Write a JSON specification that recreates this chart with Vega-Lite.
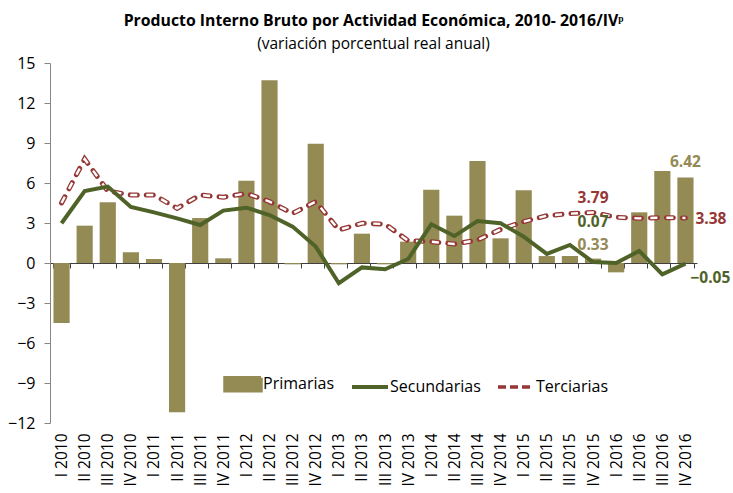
{
  "$schema": "https://vega.github.io/schema/vega-lite/v6.json",
  "width": 647,
  "height": 360,
  "autosize": {"type": "none"},
  "padding": {"left": 50, "top": 63, "right": 36, "bottom": 70},
  "background": "white",
  "config": {
    "view": {"stroke": null},
    "font": "Open Sans",
    "axis": {"labelFont": "Open Sans", "labelColor": "#000000", "grid": false}
  },
  "title": {
    "text": "Producto Interno Bruto por Actividad Económica,  2010- 2016/IVᵖ",
    "subtitle": "(variación porcentual real anual)",
    "font": "Open Sans",
    "fontSize": 15.8,
    "fontWeight": "bold",
    "color": "#000000",
    "subtitleFont": "Open Sans",
    "subtitleFontSize": 15.5,
    "subtitleColor": "#000000",
    "subtitlePadding": 7,
    "anchor": "middle",
    "offset": 2
  },
  "data": {
    "values": [
      {"q": "I 2010", "serie": "Primarias", "v": -4.5},
      {"q": "II 2010", "serie": "Primarias", "v": 2.8},
      {"q": "III 2010", "serie": "Primarias", "v": 4.55},
      {"q": "IV 2010", "serie": "Primarias", "v": 0.8},
      {"q": "I 2011", "serie": "Primarias", "v": 0.3},
      {"q": "II 2011", "serie": "Primarias", "v": -11.2},
      {"q": "III 2011", "serie": "Primarias", "v": 3.37},
      {"q": "IV 2011", "serie": "Primarias", "v": 0.35},
      {"q": "I 2012", "serie": "Primarias", "v": 6.17},
      {"q": "II 2012", "serie": "Primarias", "v": 13.7},
      {"q": "III 2012", "serie": "Primarias", "v": -0.1},
      {"q": "IV 2012", "serie": "Primarias", "v": 8.95},
      {"q": "I 2013", "serie": "Primarias", "v": -0.1},
      {"q": "II 2013", "serie": "Primarias", "v": 2.2},
      {"q": "III 2013", "serie": "Primarias", "v": -0.1},
      {"q": "IV 2013", "serie": "Primarias", "v": 1.6},
      {"q": "I 2014", "serie": "Primarias", "v": 5.5},
      {"q": "II 2014", "serie": "Primarias", "v": 3.55},
      {"q": "III 2014", "serie": "Primarias", "v": 7.65},
      {"q": "IV 2014", "serie": "Primarias", "v": 1.85},
      {"q": "I 2015", "serie": "Primarias", "v": 5.45},
      {"q": "II 2015", "serie": "Primarias", "v": 0.52},
      {"q": "III 2015", "serie": "Primarias", "v": 0.52},
      {"q": "IV 2015", "serie": "Primarias", "v": 0.33},
      {"q": "I 2016", "serie": "Primarias", "v": -0.7},
      {"q": "II 2016", "serie": "Primarias", "v": 3.8},
      {"q": "III 2016", "serie": "Primarias", "v": 6.9},
      {"q": "IV 2016", "serie": "Primarias", "v": 6.42},
      {"q": "I 2010", "serie": "Secundarias", "v": 2.98},
      {"q": "II 2010", "serie": "Secundarias", "v": 5.4},
      {"q": "III 2010", "serie": "Secundarias", "v": 5.73},
      {"q": "IV 2010", "serie": "Secundarias", "v": 4.2},
      {"q": "I 2011", "serie": "Secundarias", "v": 3.8},
      {"q": "II 2011", "serie": "Secundarias", "v": 3.35},
      {"q": "III 2011", "serie": "Secundarias", "v": 2.85},
      {"q": "IV 2011", "serie": "Secundarias", "v": 3.93},
      {"q": "I 2012", "serie": "Secundarias", "v": 4.15},
      {"q": "II 2012", "serie": "Secundarias", "v": 3.6},
      {"q": "III 2012", "serie": "Secundarias", "v": 2.73},
      {"q": "IV 2012", "serie": "Secundarias", "v": 1.23},
      {"q": "I 2013", "serie": "Secundarias", "v": -1.52},
      {"q": "II 2013", "serie": "Secundarias", "v": -0.33},
      {"q": "III 2013", "serie": "Secundarias", "v": -0.47},
      {"q": "IV 2013", "serie": "Secundarias", "v": 0.3},
      {"q": "I 2014", "serie": "Secundarias", "v": 2.9},
      {"q": "II 2014", "serie": "Secundarias", "v": 2.02},
      {"q": "III 2014", "serie": "Secundarias", "v": 3.15},
      {"q": "IV 2014", "serie": "Secundarias", "v": 2.98},
      {"q": "I 2015", "serie": "Secundarias", "v": 1.98},
      {"q": "II 2015", "serie": "Secundarias", "v": 0.68},
      {"q": "III 2015", "serie": "Secundarias", "v": 1.35},
      {"q": "IV 2015", "serie": "Secundarias", "v": 0.07},
      {"q": "I 2016", "serie": "Secundarias", "v": 0.0},
      {"q": "II 2016", "serie": "Secundarias", "v": 0.9},
      {"q": "III 2016", "serie": "Secundarias", "v": -0.85},
      {"q": "IV 2016", "serie": "Secundarias", "v": -0.05},
      {"q": "I 2010", "serie": "Terciarias", "v": 4.5},
      {"q": "II 2010", "serie": "Terciarias", "v": 7.8},
      {"q": "III 2010", "serie": "Terciarias", "v": 5.4},
      {"q": "IV 2010", "serie": "Terciarias", "v": 5.1},
      {"q": "I 2011", "serie": "Terciarias", "v": 5.1},
      {"q": "II 2011", "serie": "Terciarias", "v": 4.1},
      {"q": "III 2011", "serie": "Terciarias", "v": 5.1},
      {"q": "IV 2011", "serie": "Terciarias", "v": 4.93},
      {"q": "I 2012", "serie": "Terciarias", "v": 5.22},
      {"q": "II 2012", "serie": "Terciarias", "v": 4.6},
      {"q": "III 2012", "serie": "Terciarias", "v": 3.72},
      {"q": "IV 2012", "serie": "Terciarias", "v": 4.6},
      {"q": "I 2013", "serie": "Terciarias", "v": 2.48},
      {"q": "II 2013", "serie": "Terciarias", "v": 2.98},
      {"q": "III 2013", "serie": "Terciarias", "v": 2.92},
      {"q": "IV 2013", "serie": "Terciarias", "v": 1.67},
      {"q": "I 2014", "serie": "Terciarias", "v": 1.6},
      {"q": "II 2014", "serie": "Terciarias", "v": 1.42},
      {"q": "III 2014", "serie": "Terciarias", "v": 1.72},
      {"q": "IV 2014", "serie": "Terciarias", "v": 2.52},
      {"q": "I 2015", "serie": "Terciarias", "v": 3.1},
      {"q": "II 2015", "serie": "Terciarias", "v": 3.55},
      {"q": "III 2015", "serie": "Terciarias", "v": 3.7},
      {"q": "IV 2015", "serie": "Terciarias", "v": 3.79},
      {"q": "I 2016", "serie": "Terciarias", "v": 3.43},
      {"q": "II 2016", "serie": "Terciarias", "v": 3.35},
      {"q": "III 2016", "serie": "Terciarias", "v": 3.4},
      {"q": "IV 2016", "serie": "Terciarias", "v": 3.38}
    ]
  },
  "encoding": {
    "x": {
      "field": "q",
      "type": "nominal",
      "sort": null,
      "scale": {"paddingInner": 0.3, "paddingOuter": 0.15},
      "axis": {
        "title": null,
        "orient": "bottom",
        "offset": -160,
        "tickBand": "extent",
        "tickSize": 5,
        "tickColor": "#404040",
        "domainColor": "#404040",
        "labelAngle": 270,
        "labelPadding": 165,
        "labelFontSize": 15.5
      }
    },
    "y": {
      "field": "v",
      "type": "quantitative",
      "scale": {"domain": [-12, 15], "nice": false, "zero": false},
      "axis": {
        "title": null,
        "values": [-12, -9, -6, -3, 0, 3, 6, 9, 12, 15],
        "tickSize": 6,
        "tickColor": "#868686",
        "domainColor": "#868686",
        "labelFontSize": 16,
        "labelPadding": 9
      }
    }
  },
  "layer": [
    {
      "transform": [{"filter": "datum.serie === 'Primarias'"}],
      "mark": {"type": "bar"},
      "encoding": {
        "color": {
          "field": "serie",
          "type": "nominal",
          "scale": {"domain": ["Primarias", "Secundarias", "Terciarias"], "range": ["#948A54", "#4F6228", "#953735"]},
          "legend": {
            "title": null,
            "orient": "none",
            "direction": "horizontal",
            "legendX": 185,
            "legendY": 313,
            "symbolSize": 1296,
            "labelFont": "Open Sans",
            "labelFontSize": 16,
            "labelColor": "#000000",
            "labelOffset": 12,
            "columnPadding": 10,
            "encode": {
              "symbols": {
                "update": {
                  "shape": {"signal": "datum.value === 'Primarias' ? 'M-1,-0.36H1V0.36H-1Z' : 'stroke'"},
                  "fill": {"signal": "datum.value === 'Primarias' ? '#948A54' : 'transparent'"},
                  "stroke": {"signal": "datum.value === 'Primarias' ? 'transparent' : (datum.value === 'Secundarias' ? '#4F6228' : '#953735')"},
                  "strokeWidth": {"signal": "datum.value === 'Secundarias' ? 4 : 3.5"},
                  "strokeDash": {"signal": "datum.value === 'Terciarias' ? [8, 4] : [1, 0]"}
                }
              }
            }
          }
        }
      }
    },
    {
      "transform": [{"filter": "datum.serie === 'Terciarias'"}],
      "mark": {"type": "line", "strokeWidth": 5, "strokeDash": [7, 9], "strokeCap": "round"},
      "encoding": {"color": {"field": "serie", "type": "nominal"}}
    },
    {
      "transform": [{"filter": "datum.serie === 'Terciarias'"}],
      "mark": {"type": "line", "strokeWidth": 2.4, "strokeDash": [7, 9], "strokeCap": "butt", "color": "#ffffff"},
      "encoding": {}
    },
    {
      "transform": [{"filter": "datum.serie === 'Secundarias'"}],
      "mark": {"type": "line", "strokeWidth": 4, "strokeJoin": "miter"},
      "encoding": {"color": {"field": "serie", "type": "nominal"}}
    },
    {
      "transform": [{"filter": "datum.q === 'IV 2016' && datum.serie === 'Primarias'"}],
      "mark": {"type": "text", "fontSize": 15.5, "fontWeight": "bold", "color": "#948A54", "dy": -15},
      "encoding": {"text": {"field": "v", "format": ".2f"}}
    },
    {
      "transform": [{"filter": "datum.q === 'IV 2015' && datum.serie === 'Primarias'"}],
      "mark": {"type": "text", "fontSize": 15.5, "fontWeight": "bold", "color": "#948A54", "dy": -14},
      "encoding": {"text": {"field": "v", "format": ".2f"}}
    },
    {
      "transform": [{"filter": "datum.q === 'IV 2015' && datum.serie === 'Secundarias'"}],
      "mark": {"type": "text", "fontSize": 15.5, "fontWeight": "bold", "color": "#4F6228", "dy": -40},
      "encoding": {"text": {"field": "v", "format": ".2f"}}
    },
    {
      "transform": [{"filter": "datum.q === 'IV 2015' && datum.serie === 'Terciarias'"}],
      "mark": {"type": "text", "fontSize": 15.5, "fontWeight": "bold", "color": "#953735", "dy": -14},
      "encoding": {"text": {"field": "v", "format": ".2f"}}
    },
    {
      "transform": [{"filter": "datum.q === 'IV 2016' && datum.serie === 'Terciarias'"}],
      "mark": {"type": "text", "fontSize": 15.5, "fontWeight": "bold", "color": "#953735", "align": "left", "dx": 10, "dy": 1},
      "encoding": {"text": {"field": "v", "format": ".2f"}}
    },
    {
      "transform": [{"filter": "datum.q === 'IV 2016' && datum.serie === 'Secundarias'"}],
      "mark": {"type": "text", "fontSize": 15.5, "fontWeight": "bold", "color": "#4F6228", "align": "left", "dx": 5, "dy": 14},
      "encoding": {"text": {"field": "v", "format": ".2f"}}
    }
  ]
}
